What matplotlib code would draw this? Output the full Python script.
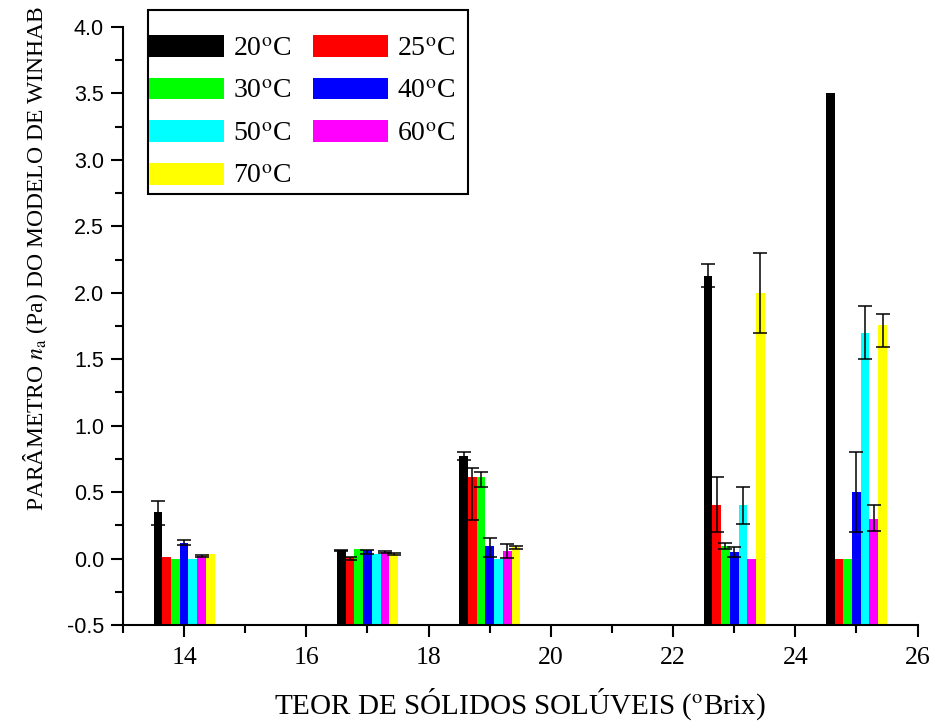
import numpy as np
import matplotlib
matplotlib.use("Agg")
import matplotlib.pyplot as plt
from matplotlib.patches import Patch, Rectangle

# --- dados ---
brix = [14, 17, 19, 23, 25]
temps = ['20', '25', '30', '40', '50', '60', '70']
colors = ['black', 'red', '#00ff00', 'blue', 'cyan', 'magenta', 'yellow']

n_20 = [0.35, 0.065, 0.77, 2.13, 3.50]
n_25 = [0.01, 0.01, 0.61, 0.40, 0.00]
n_30 = [0.00, 0.07, 0.61, 0.095, 0.00]
n_40 = [0.12, 0.065, 0.095, 0.05, 0.50]
n_50 = [0.00, 0.035, 0.00, 0.40, 1.70]
n_60 = [0.02, 0.05, 0.057, 0.00, 0.30]
n_70 = [0.035, 0.035, 0.085, 2.00, 1.76]

# erros (inferior, superior)
lo_20 = [0.10, 0.01, 0.03, 0.09, 0.00]
hi_20 = [0.08, 0.00, 0.03, 0.09, 0.00]
lo_25 = [0.00, 0.02, 0.32, 0.20, 0.00]
hi_25 = [0.00, 0.00, 0.07, 0.21, 0.00]
lo_30 = [0.00, 0.00, 0.07, 0.02, 0.00]
hi_30 = [0.00, 0.00, 0.04, 0.02, 0.00]
lo_40 = [0.02, 0.03, 0.08, 0.04, 0.30]
hi_40 = [0.02, 0.00, 0.06, 0.04, 0.30]
lo_50 = [0.00, 0.00, 0.00, 0.14, 0.20]
hi_50 = [0.00, 0.00, 0.00, 0.14, 0.20]
lo_60 = [0.005, 0.005, 0.05, 0.00, 0.09]
hi_60 = [0.005, 0.005, 0.05, 0.00, 0.10]
lo_70 = [0.00, 0.005, 0.01, 0.30, 0.17]
hi_70 = [0.00, 0.005, 0.01, 0.30, 0.08]

series = [n_20, n_25, n_30, n_40, n_50, n_60, n_70]
lows = [lo_20, lo_25, lo_30, lo_40, lo_50, lo_60, lo_70]
highs = [hi_20, hi_25, hi_30, hi_40, hi_50, hi_60, hi_70]

plt.rcParams['mathtext.fontset'] = 'stix'
serif = 'Liberation Serif'
W, H = 931, 723

fig = plt.figure(figsize=(9.31, 7.23), dpi=100)
ax = fig.add_axes([123 / W, 1 - 625 / H, (917.5 - 123) / W, 598 / H])

ymin = -0.5
width = 1.0 / 7
x = np.array(brix, dtype=float)
for i, (vals, lo, hi, c) in enumerate(zip(series, lows, highs, colors)):
    xpos = x + (i - 3) * width
    vals = np.array(vals)
    # barras partem do fundo do eixo (-0.5), como no original
    ax.bar(xpos, vals - ymin, bottom=ymin, width=width, color=c,
           edgecolor='none', zorder=2)
    lo = np.array(lo); hi = np.array(hi)
    m = (lo + hi) > 0
    ax.errorbar(xpos[m], vals[m], yerr=[lo[m], hi[m]], fmt='none',
                ecolor='black', elinewidth=1.1, capsize=5, capthick=1.1, zorder=3)

ax.set_xlim(13, 26)
ax.set_ylim(ymin, 4.0)
ax.set_xticks(np.arange(14, 27, 2))
ax.set_xticks(np.arange(13, 27, 1), minor=True)
yt = np.arange(-0.5, 4.01, 0.5)
ax.set_yticks(yt)
ax.set_yticks(np.arange(-0.25, 4.0, 0.5), minor=True)
ax.set_yticklabels([f'{v:.1f}' for v in yt], fontfamily='Liberation Sans', fontsize=15.5)
ax.set_xticklabels([str(v) for v in range(14, 27, 2)], fontfamily=serif, fontsize=18.5)
ax.tick_params(which='major', direction='out', length=8.6, width=1.5)
ax.tick_params(which='minor', direction='out', length=5.8, width=1.5)
ax.tick_params(axis='x', pad=7)
ax.tick_params(axis='y', pad=5)
ax.spines['top'].set_visible(False)
ax.spines['right'].set_visible(False)
for s in ['left', 'bottom']:
    ax.spines[s].set_linewidth(1.5)

ax.set_xlabel(r'TEOR DE SÓLIDOS SOLÚVEIS ($^{\mathrm{o}}$Brix)', fontfamily=serif,
              fontsize=21, labelpad=12.5)
ax.set_ylabel(r'PARÂMETRO $\mathit{n}_{\mathrm{a}}$ (Pa) DO MODELO DE WINHAB',
              fontfamily=serif, fontsize=17, va='center')
ax.yaxis.set_label_coords((35 - 123) / 795, (625 - 258) / 598)

# moldura da legenda
fig.add_artist(Rectangle((148 / W, 1 - 194 / H), (468 - 148) / W, 184 / H,
                         transform=fig.transFigure, facecolor='white',
                         edgecolor='black', linewidth=1.5, zorder=5))

handles = [Patch(facecolor=c, edgecolor='none') for c in colors]
labels = [t + r'$^{\mathrm{o}}$C' for t in temps]
order = [0, 2, 4, 6, 1, 3, 5]
leg = fig.legend([handles[k] for k in order], [labels[k] for k in order],
                 loc='upper left', bbox_to_anchor=(149 / W, 1 - 35 / H), ncol=2,
                 prop={'family': serif, 'size': 20}, frameon=False,
                 handlelength=2.7, handleheight=0.83,
                 handletextpad=0.32, columnspacing=0.8, labelspacing=0.58,
                 borderpad=0, borderaxespad=0)
leg.set_zorder(6)

fig.savefig('out.png', dpi=100)
